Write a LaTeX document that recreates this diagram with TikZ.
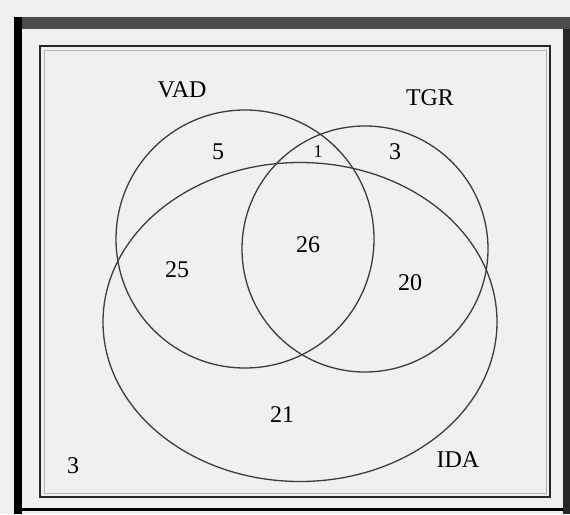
\documentclass[tikz,border=0pt]{standalone}
\usepackage{fontspec}
\setmainfont{Liberation Serif}
\usepackage{tikz}
\usetikzlibrary{shapes.geometric, positioning}
\definecolor{scanbg}{RGB}{240,240,238}
\definecolor{setline}{RGB}{60,60,60}

\begin{document}
\begin{tikzpicture}[
    x=1pt, y=-1pt,
    setcircle/.style={circle, draw=setline, line width=1.3pt, inner sep=0pt},
    setellipse/.style={ellipse, draw=setline, line width=1.3pt, inner sep=0pt},
    setname/.style={font=\fontsize{24}{26}\selectfont},
    count/.style={font=\fontsize{24}{26}\selectfont},
    frameline/.style={draw=black!85, line width=1.5pt}
]

% Background and page frame
\useasboundingbox[fill=scanbg] (0,0) rectangle (570,514);
\fill[black!70] (16,17) rectangle (570,29);
\fill[black] (14,17) rectangle (22,514);
\fill[black!85] (563,29) rectangle (570,514);
\fill[black] (22,508) rectangle (563,511);

% Universe box
\draw[frameline] (40,46) rectangle (550,497);
\draw[gray!60, line width=0.8pt] (44,50) rectangle (546,493);

% Sets
\node[setcircle, minimum size=258pt] (vad) at (245,239) {};
\node[setcircle, minimum size=246pt] (tgr) at (365,249) {};
\node[setellipse, minimum width=394pt, minimum height=319pt] (ida) at (300,322) {};

% Set names
\node[setname] (vadname) at (182,90) {VAD};
\node[setname] (tgrname) at (430,98) {TGR};
\node[setname] (idaname) at (458,460) {IDA};

% Region counts
\node[count] (vadonly) at (218,152) {5};
\node[count, font=\fontsize{18}{20}\selectfont] (vadtgr) at (318,152) {1};
\node[count] (tgronly) at (395,152) {3};
\node[count] (all) at (308,245) {26};
\node[count] (vadida) at (177,270) {25};
\node[count] (tgrida) at (410,283) {20};
\node[count] (idaonly) at (282,415) {21};
\node[count] (none) at (73,466) {3};

\end{tikzpicture}
\end{document}
